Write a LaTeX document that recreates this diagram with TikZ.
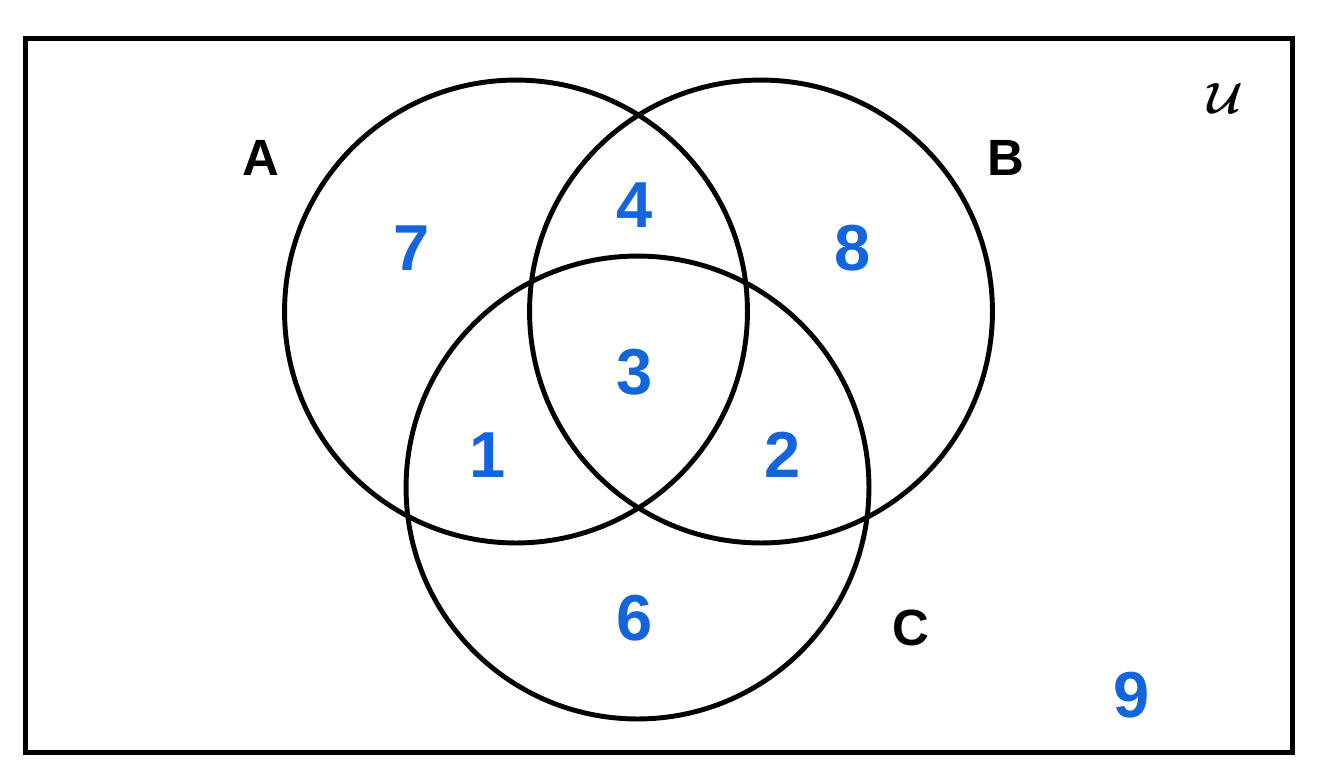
\documentclass[tikz,border=0pt]{standalone}
\usepackage{fontspec}
\setmainfont{Liberation Sans}
\definecolor{regionblue}{RGB}{20,100,220}
\tikzset{
  setring/.style={circle, draw, line width=2.8pt, inner sep=0pt, minimum size=9.26cm},
  setname/.style={font=\fontsize{29}{32}\selectfont\bfseries},
  univname/.style={font=\fontsize{50}{52}\selectfont\boldmath},
  count/.style={font=\fontsize{37}{40}\selectfont\bfseries, text=regionblue}
}
\begin{document}
\begin{tikzpicture}[x=0.02cm, y=-0.02cm]
  % Page size
  \useasboundingbox (0,0) rectangle (1317,775);
  % Draw the universal set
  \draw[line width=3pt] (25.5,38.5) rectangle (1292.5,752.5);
  \node[univname] (univ) at (1225,98) {$\mathcal{U}$};
  % Draw the three sets
  \node[setring] (A) at (516,311.5) {};
  \node[setring] (B) at (761,311.5) {};
  \node[setring] (C) at (637.5,487.5) {};
  % Set names
  \node[setname] (nameA) at (261,158) {A};
  \node[setname] (nameB) at (1006,158) {B};
  \node[setname] (nameC) at (911,628) {C};
  % Region counts
  \node[count] (onlyA) at (412,248) {7};
  \node[count] (AB) at (635,205) {4};
  \node[count] (onlyB) at (853,248) {8};
  \node[count] (ABC) at (635,372) {3};
  \node[count] (AC) at (488,455) {1};
  \node[count] (BC) at (783,455) {2};
  \node[count] (onlyC) at (635,618) {6};
  \node[count] (none) at (1132,695) {9};
\end{tikzpicture}
\end{document}
